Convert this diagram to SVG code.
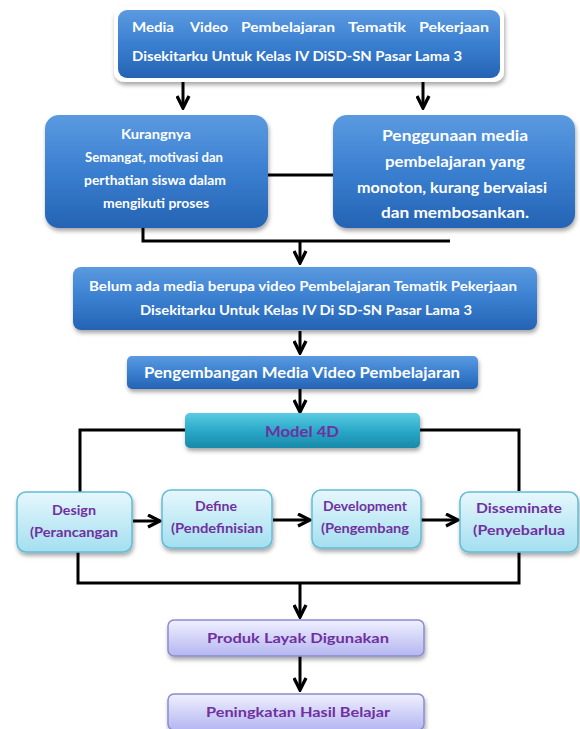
<svg xmlns="http://www.w3.org/2000/svg" width="580" height="729" viewBox="0 0 580 729">
<defs>
  <linearGradient id="gBlue" x1="0" y1="0" x2="0" y2="1">
    <stop offset="0" stop-color="#5b9ae0"/>
    <stop offset="0.5" stop-color="#3a7fd0"/>
    <stop offset="1" stop-color="#2563b4"/>
  </linearGradient>
  <linearGradient id="gTeal" x1="0" y1="0" x2="0" y2="1">
    <stop offset="0" stop-color="#5ccbe3"/>
    <stop offset="0.5" stop-color="#2aa9c8"/>
    <stop offset="1" stop-color="#1a89aa"/>
  </linearGradient>
  <linearGradient id="gCyan" x1="0" y1="0" x2="0" y2="1">
    <stop offset="0" stop-color="#e6f7fc"/>
    <stop offset="1" stop-color="#a3dff0"/>
  </linearGradient>
  <linearGradient id="gLav" x1="0" y1="0" x2="0" y2="1">
    <stop offset="0" stop-color="#f0f0ff"/>
    <stop offset="1" stop-color="#b4b6f0"/>
  </linearGradient>
  <filter id="sh" x="-10%" y="-20%" width="120%" height="150%">
    <feDropShadow dx="1" dy="3" stdDeviation="2" flood-color="#000" flood-opacity="0.35"/>
  </filter>
  <marker id="arr" viewBox="0 0 10 10" refX="9" refY="5" markerWidth="5" markerHeight="5" orient="auto" markerUnits="strokeWidth">
    <path d="M1,1 L9,5 L1,9" fill="none" stroke="#000" stroke-width="2.2"/>
  </marker>
  <style>
    .blue{fill:url(#gBlue);filter:url(#sh)}
    .teal{fill:url(#gTeal);filter:url(#sh)}
    .cyan{fill:url(#gCyan);stroke:#62bcd6;stroke-width:1.5;filter:url(#sh)}
    .lav{fill:url(#gLav);stroke:#8a8ccf;stroke-width:1.5;filter:url(#sh)}
    .wt{font-family:Lato,"Liberation Sans",sans-serif;font-weight:bold;fill:#fff;text-anchor:middle}
    .pt{font-family:Lato,"Liberation Sans",sans-serif;font-weight:bold;fill:#7030a0;text-anchor:middle}
    .ln{fill:none;stroke:#000;stroke-width:3}
    .ar{fill:none;stroke:#000;stroke-width:3;marker-end:url(#arr)}
  </style>
</defs>

<g id="connectors">
  <line class="ar" x1="183" y1="80" x2="183" y2="108"/>
  <line class="ar" x1="423" y1="80" x2="423" y2="108"/>
  <line class="ln" x1="268" y1="175" x2="333" y2="175"/>
  <polyline class="ln" points="143,228 143,241 450,241"/>
  <line class="ar" x1="300" y1="241" x2="300" y2="263"/>
  <line class="ar" x1="300" y1="331" x2="300" y2="353"/>
  <line class="ar" x1="300" y1="389" x2="300" y2="412"/>
  <polyline class="ln" points="185,430 80,430 80,493"/>
  <polyline class="ln" points="420,430 519,430 519,491"/>
  <line class="ar" x1="133" y1="521" x2="160" y2="521"/>
  <line class="ar" x1="273" y1="520" x2="310" y2="520"/>
  <line class="ar" x1="421" y1="520" x2="458" y2="520"/>
  <polyline class="ln" points="78,552 78,583 519,583 519,552"/>
  <line class="ar" x1="300" y1="583" x2="300" y2="617"/>
  <line class="ar" x1="300" y1="656" x2="300" y2="690"/>
</g>

<g id="n1">
  <rect x="114" y="6" width="390" height="76" rx="10" fill="#fff" filter="url(#sh)"/>
  <rect x="118" y="10" width="382" height="68" rx="9" fill="url(#gBlue)"/>
  <text class="wt" y="32" font-size="13.5" style="text-anchor:start">
    <tspan x="132" textLength="42" lengthAdjust="spacingAndGlyphs">Media</tspan>
    <tspan x="190" textLength="38" lengthAdjust="spacingAndGlyphs">Video</tspan>
    <tspan x="241" textLength="94" lengthAdjust="spacingAndGlyphs">Pembelajaran</tspan>
    <tspan x="348" textLength="58" lengthAdjust="spacingAndGlyphs">Tematik</tspan>
    <tspan x="419" textLength="70" lengthAdjust="spacingAndGlyphs">Pekerjaan</tspan>
  </text>
  <text class="wt" x="132" y="61" font-size="13.5" textLength="330" lengthAdjust="spacingAndGlyphs" style="text-anchor:start">Disekitarku Untuk Kelas IV DiSD-SN Pasar Lama 3</text>
</g>

<g id="n2">
  <rect class="blue" x="45" y="115" width="223" height="113" rx="14"/>
  <text class="wt" x="156" y="139" font-size="13.5" textLength="70" lengthAdjust="spacingAndGlyphs">Kurangnya</text>
  <text class="wt" x="154" y="162" font-size="13.5" textLength="138" lengthAdjust="spacingAndGlyphs">Semangat, motivasi dan</text>
  <text class="wt" x="155" y="185" font-size="13.5" textLength="142" lengthAdjust="spacingAndGlyphs">perthatian siswa dalam</text>
  <text class="wt" x="156" y="208" font-size="13.5" textLength="106" lengthAdjust="spacingAndGlyphs">mengikuti proses</text>
</g>

<g id="n3">
  <rect class="blue" x="333" y="115" width="242" height="113" rx="14"/>
  <text class="wt" x="455" y="141" font-size="14.5" textLength="146" lengthAdjust="spacingAndGlyphs">Penggunaan media</text>
  <text class="wt" x="455" y="167" font-size="14.5" textLength="140" lengthAdjust="spacingAndGlyphs">pembelajaran yang</text>
  <text class="wt" x="452" y="193" font-size="14.5" textLength="190" lengthAdjust="spacingAndGlyphs">monoton, kurang bervaiasi</text>
  <text class="wt" x="455" y="218" font-size="14.5" textLength="148" lengthAdjust="spacingAndGlyphs">dan membosankan.</text>
</g>

<g id="n4">
  <rect class="blue" x="73" y="267" width="464" height="63" rx="8"/>
  <text class="wt" x="303" y="291" font-size="13.5" textLength="428" lengthAdjust="spacingAndGlyphs">Belum ada media berupa video Pembelajaran Tematik Pekerjaan</text>
  <text class="wt" x="306" y="315" font-size="13.5" textLength="332" lengthAdjust="spacingAndGlyphs">Disekitarku Untuk Kelas IV Di SD-SN Pasar Lama 3</text>
</g>

<g id="n5">
  <rect class="blue" x="127" y="356" width="351" height="33" rx="5"/>
  <text class="wt" x="302" y="378" font-size="14.5" textLength="316" lengthAdjust="spacingAndGlyphs">Pengembangan Media Video Pembelajaran</text>
</g>

<g id="n6">
  <rect class="teal" x="185" y="413" width="235" height="35" rx="5"/>
  <text class="pt" x="302" y="437" font-size="15" textLength="74" lengthAdjust="spacingAndGlyphs">Model 4D</text>
</g>

<g id="n7">
  <rect class="cyan" x="17" y="492" width="115" height="60" rx="9"/>
  <text class="pt" x="74" y="515" font-size="13.5" textLength="44" lengthAdjust="spacingAndGlyphs">Design</text>
  <text class="pt" x="74" y="537" font-size="13.5" textLength="88" lengthAdjust="spacingAndGlyphs">(Perancangan</text>
</g>

<g id="n8">
  <rect class="cyan" x="162" y="490" width="110" height="58" rx="9"/>
  <text class="pt" x="216" y="511" font-size="13.5" textLength="42" lengthAdjust="spacingAndGlyphs">Define</text>
  <text class="pt" x="217" y="533" font-size="13.5" textLength="92" lengthAdjust="spacingAndGlyphs">(Pendefinisian</text>
</g>

<g id="n9">
  <rect class="cyan" x="312" y="490" width="109" height="58" rx="9"/>
  <text class="pt" x="365" y="511" font-size="13.5" textLength="84" lengthAdjust="spacingAndGlyphs">Development</text>
  <text class="pt" x="365" y="533" font-size="13.5" textLength="88" lengthAdjust="spacingAndGlyphs">(Pengembang</text>
</g>

<g id="n10">
  <rect class="cyan" x="460" y="492" width="118" height="60" rx="9"/>
  <text class="pt" x="519" y="513" font-size="13.5" textLength="86" lengthAdjust="spacingAndGlyphs">Disseminate</text>
  <text class="pt" x="519" y="535" font-size="13.5" textLength="92" lengthAdjust="spacingAndGlyphs">(Penyebarlua</text>
</g>

<g id="n11">
  <rect class="lav" x="168" y="620" width="256" height="36" rx="6"/>
  <text class="pt" x="298" y="643" font-size="14" textLength="182" lengthAdjust="spacingAndGlyphs">Produk Layak Digunakan</text>
</g>

<g id="n12">
  <rect class="lav" x="168" y="694" width="256" height="36" rx="6"/>
  <text class="pt" x="298" y="717" font-size="14" textLength="184" lengthAdjust="spacingAndGlyphs">Peningkatan Hasil Belajar</text>
</g>
</svg>
